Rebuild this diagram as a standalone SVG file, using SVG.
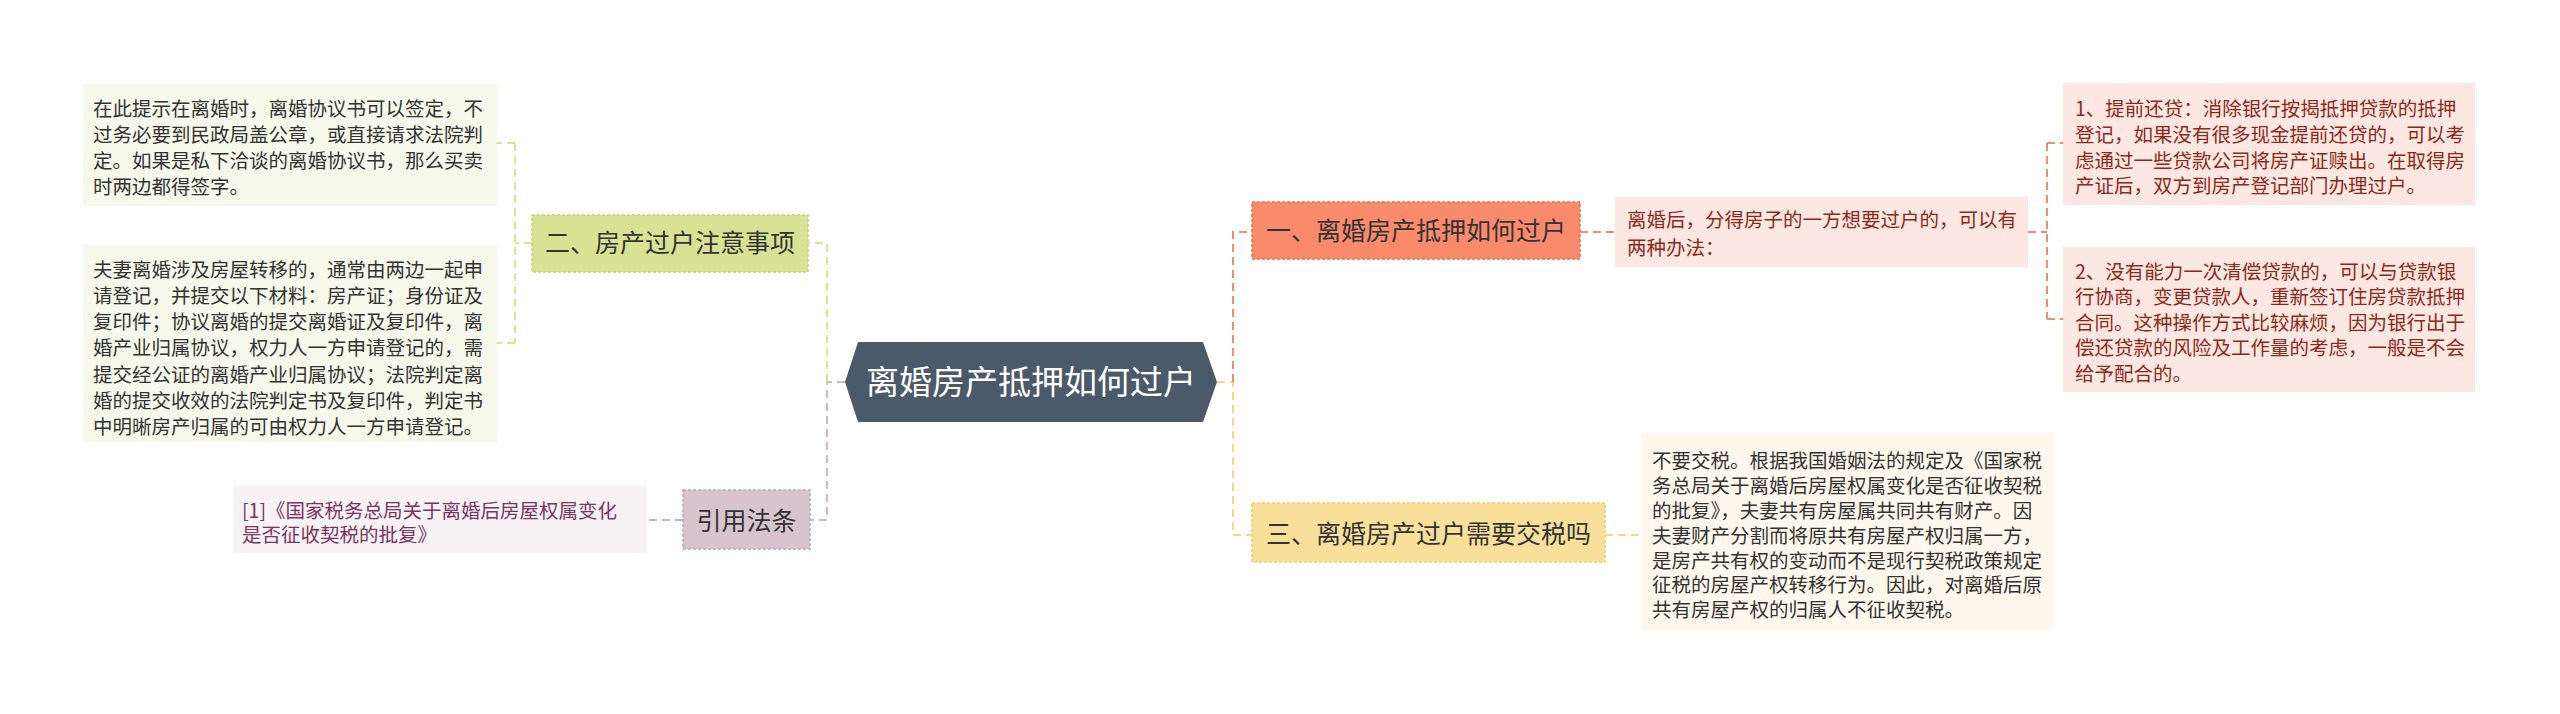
<svg xmlns="http://www.w3.org/2000/svg" width="2560" height="714" viewBox="0 0 2560 714">
<style>
text{font-family:"Noto Sans CJK SC","Noto Sans",sans-serif;}
.leaf{font-size:19.5px;}
.topic{font-size:25px;fill:#333;}
.conn{fill:none;stroke-width:2;stroke-dasharray:8 5;}
.g{stroke:#d9e48f;}
.m{stroke:#cdb8c3;}
.s{stroke:#ec8d74;}
.y{stroke:#f6d97c;}
.gr{stroke:#c0b8bc;}
.bd{stroke-width:1.5;stroke-dasharray:3 2;}
</style>
<rect width="2560" height="714" fill="#ffffff"/>
<g id="connectors">
<path class="conn m" d="M845 382 H827 V520 H810"/>
<path class="conn g" d="M827 382 V243 H808"/>
<path class="conn g" d="M532 243 H515 M515 143 V343 M515 143 H497 M515 343 H497"/>
<path class="conn gr" d="M683 520 H647"/>
<path class="conn y" d="M1217 382 H1233 V535 H1252"/>
<path class="conn s" d="M1233 382 V232 H1252"/>
<path class="conn s" d="M1580 232 H1615"/>
<path class="conn s" d="M2028 232 H2047 M2047 143 V319 M2047 143 H2063 M2047 319 H2063"/>
<path class="conn y" d="M1605 535 H1642"/>
</g>
<g id="center">
<polygon points="845,382 858,342 1203,342 1217,382 1203,422 858,422" fill="#4b5a69"/>
<text x="1031" y="394" font-size="33" fill="#ffffff" text-anchor="middle">离婚房产抵押如何过户</text>
</g>
<g id="node-er">
<rect class="bd" x="532" y="215" width="276" height="57" fill="#d7e393" stroke="#c3d279"/>
<text class="topic" x="670" y="252" text-anchor="middle">二、房产过户注意事项</text>
</g>
<g id="leaf-er-1">
<rect x="83" y="84" width="414" height="122" fill="#f6f8ea"/>
<text class="leaf" fill="#333333"><tspan x="93" y="116">在此提示在离婚时，离婚协议书可以签定，不</tspan><tspan x="93" y="142">过务必要到民政局盖公章，或直接请求法院判</tspan><tspan x="93" y="168">定。如果是私下洽谈的离婚协议书，那么买卖</tspan><tspan x="93" y="194">时两边都得签字。</tspan></text>
</g>
<g id="leaf-er-2">
<rect x="83" y="245" width="414" height="197" fill="#f6f8ea"/>
<text class="leaf" fill="#333333"><tspan x="93" y="277">夫妻离婚涉及房屋转移的，通常由两边一起申</tspan><tspan x="93" y="303">请登记，并提交以下材料：房产证；身份证及</tspan><tspan x="93" y="329">复印件；协议离婚的提交离婚证及复印件，离</tspan><tspan x="93" y="355">婚产业归属协议，权力人一方申请登记的，需</tspan><tspan x="93" y="382">提交经公证的离婚产业归属协议；法院判定离</tspan><tspan x="93" y="408">婚的提交收效的法院判定书及复印件，判定书</tspan><tspan x="93" y="434">中明晰房产归属的可由权力人一方申请登记。</tspan></text>
</g>
<g id="node-yinyong">
<rect class="bd" x="683" y="490" width="127" height="59" fill="#d7c4cd" stroke="#bfa6b3"/>
<text class="topic" x="746.5" y="530" text-anchor="middle">引用法条</text>
</g>
<g id="leaf-ref">
<rect x="233" y="485" width="414" height="68" fill="#f7f2f4"/>
<text class="leaf" fill="#7b3561"><tspan x="242" y="518">[1]《国家税务总局关于离婚后房屋权属变化</tspan><tspan x="242" y="542">是否征收契税的批复》</tspan></text>
</g>
<g id="node-yi">
<rect class="bd" x="1252" y="202" width="328" height="57" fill="#f98a6c" stroke="#e4705a"/>
<text class="topic" x="1416" y="240" text-anchor="middle">一、离婚房产抵押如何过户</text>
</g>
<g id="leaf-yi">
<rect x="1615" y="197" width="413" height="70" fill="#fde7e2"/>
<text class="leaf" fill="#8c2a1a"><tspan x="1627" y="227">离婚后，分得房子的一方想要过户的，可以有</tspan><tspan x="1627" y="255">两种办法：</tspan></text>
</g>
<g id="leaf-yi-1">
<rect x="2063" y="83" width="412" height="122" fill="#fde7e2"/>
<text class="leaf" fill="#8c2a1a"><tspan x="2075" y="116">1、提前还贷：消除银行按揭抵押贷款的抵押</tspan><tspan x="2075" y="142">登记，如果没有很多现金提前还贷的，可以考</tspan><tspan x="2075" y="168">虑通过一些贷款公司将房产证赎出。在取得房</tspan><tspan x="2075" y="193">产证后，双方到房产登记部门办理过户。</tspan></text>
</g>
<g id="leaf-yi-2">
<rect x="2063" y="247" width="412" height="145" fill="#fde7e2"/>
<text class="leaf" fill="#8c2a1a"><tspan x="2075" y="279">2、没有能力一次清偿贷款的，可以与贷款银</tspan><tspan x="2075" y="304">行协商，变更贷款人，重新签订住房贷款抵押</tspan><tspan x="2075" y="330">合同。这种操作方式比较麻烦，因为银行出于</tspan><tspan x="2075" y="355">偿还贷款的风险及工作量的考虑，一般是不会</tspan><tspan x="2075" y="381">给予配合的。</tspan></text>
</g>
<g id="node-san">
<rect class="bd" x="1252" y="503" width="353" height="59" fill="#f9e09a" stroke="#eccd70"/>
<text class="topic" x="1428.5" y="543" text-anchor="middle">三、离婚房产过户需要交税吗</text>
</g>
<g id="leaf-san">
<rect x="1642" y="433" width="411" height="197" fill="#fdf8eb"/>
<text class="leaf" fill="#333333"><tspan x="1652" y="468">不要交税。根据我国婚姻法的规定及《国家税</tspan><tspan x="1652" y="493">务总局关于离婚后房屋权属变化是否征收契税</tspan><tspan x="1652" y="518">的批复》，夫妻共有房屋属共同共有财产。因</tspan><tspan x="1652" y="543">夫妻财产分割而将原共有房屋产权归属一方，</tspan><tspan x="1652" y="568">是房产共有权的变动而不是现行契税政策规定</tspan><tspan x="1652" y="592">征税的房屋产权转移行为。因此，对离婚后原</tspan><tspan x="1652" y="617">共有房屋产权的归属人不征收契税。</tspan></text>
</g>
</svg>
